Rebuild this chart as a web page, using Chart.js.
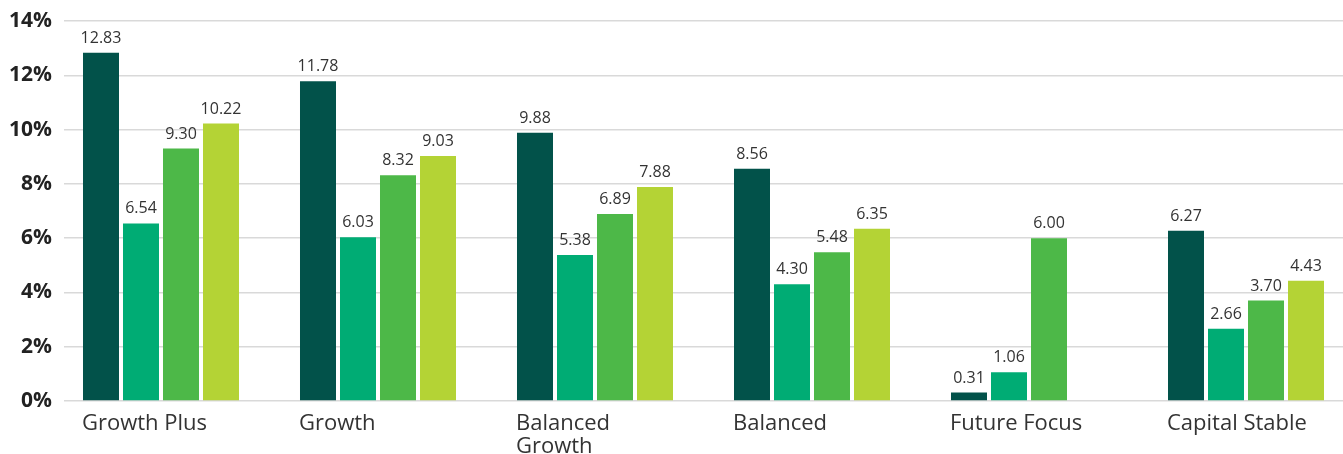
<!DOCTYPE html>
<html>
<head>
<meta charset="utf-8">
<script src="https://cdn.jsdelivr.net/npm/chart.js@4"></script>
<style>
  html, body { margin: 0; padding: 0; background: #ffffff; }
  #wrap { width: 1343px; height: 454px; position: relative; }
</style>
</head>
<body>
<div id="wrap"><canvas id="c"></canvas></div>
<script>
const categories = ['Growth Plus', 'Growth', 'Balanced Growth', 'Balanced', 'Future Focus', 'Capital Stable'];
const categoryLines = [['Growth Plus'], ['Growth'], ['Balanced', 'Growth'], ['Balanced'], ['Future Focus'], ['Capital Stable']];
const series1 = [12.83, 11.78, 9.88, 8.56, 0.31, 6.27];
const series2 = [6.54, 6.03, 5.38, 4.30, 1.06, 2.66];
const series3 = [9.30, 8.32, 6.89, 5.48, 6.00, 3.70];
const series4 = [10.22, 9.03, 7.88, 6.35, null, 4.43];
const yTicks = [0, 2, 4, 6, 8, 10, 12, 14];
const colors = ['#02524a', '#00ac74', '#4db848', '#b4d335'];

const allSeries = [series1, series2, series3, series4];
const datasets = allSeries.map((s, k) => ({
  label: 'Series ' + (k + 1),
  data: s.map((v, i) => ({ x: i, y: v })),
  backgroundColor: colors[k],
  borderWidth: 0,
  categoryPercentage: 160 / 217,
  barPercentage: 0.9
}));

const valueLabels = {
  id: 'valueLabels',
  afterDatasetsDraw(chart) {
    const ctx = chart.ctx;
    ctx.save();
    ctx.font = '16px "Open Sans"';
    ctx.fillStyle = '#333333';
    ctx.textAlign = 'center';
    ctx.textBaseline = 'alphabetic';
    chart.data.datasets.forEach((ds, di) => {
      const meta = chart.getDatasetMeta(di);
      meta.data.forEach((el, j) => {
        const v = ds.data[j].y;
        if (v === null || v === undefined) return;
        ctx.fillText(v.toFixed(2), el.x, el.y - 10);
      });
    });
    ctx.restore();
  }
};

new Chart(document.getElementById('c'), {
  type: 'bar',
  data: { datasets },
  options: {
    responsive: true,
    maintainAspectRatio: false,
    animation: false,
    layout: { padding: { top: 21, right: 0, bottom: 0, left: 0 } },
    plugins: {
      legend: { display: false },
      tooltip: { enabled: false }
    },
    scales: {
      x: {
        type: 'linear',
        offset: false,
        min: -0.447,
        max: 5.447,
        grid: { display: false },
        border: { display: false },
        afterBuildTicks(scale) {
          scale.ticks = categories.map((c, i) => ({ value: i }));
        },
        afterFit(scale) {
          scale.height = 53;
          scale.paddingLeft = 0;
          scale.paddingRight = 0;
        },
        ticks: {
          autoSkip: false,
          maxRotation: 0,
          minRotation: 0,
          align: 'start',
          labelOffset: -79,
          padding: 3,
          color: '#333333',
          font: { family: '"Open Sans"', size: 22, lineHeight: '23px' },
          callback(value) {
            const i = Math.round(value);
            return categoryLines[i] || '';
          }
        }
      },
      y: {
        min: 0,
        max: 14,
        afterBuildTicks(scale) {
          scale.ticks = yTicks.map(v => ({ value: v }));
        },
        afterFit(scale) {
          scale.width = 64;
          scale.paddingTop = 0;
          scale.paddingBottom = 0;
        },
        grid: { color: '#d9d9d9', lineWidth: 1.5, drawTicks: false },
        border: { display: false },
        ticks: {
          padding: 12,
          color: '#222222',
          font: { family: '"Open Sans"', size: 21, weight: 'bold' },
          callback(value) { return value + '%'; }
        }
      }
    }
  },
  plugins: [valueLabels]
});
</script>
</body>
</html>
